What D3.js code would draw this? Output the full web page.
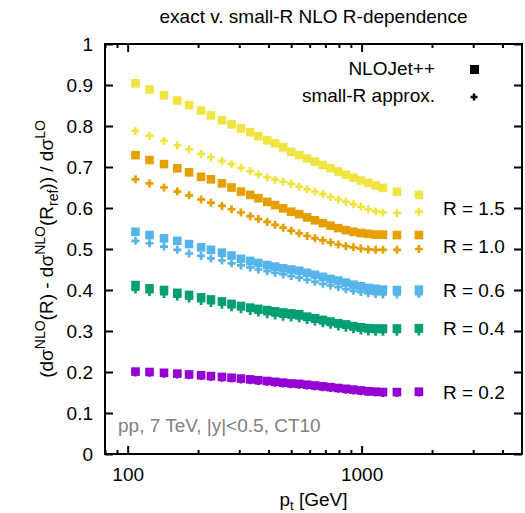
<!DOCTYPE html>
<html>
<head>
<meta charset="utf-8">
<script src="https://cdn.jsdelivr.net/npm/d3@7"></script>
<style>
  body { margin: 0; background: #fff; }
  text { font-family: "Liberation Sans", Arial, sans-serif; }
</style>
</head>
<body>
<div id="chart"></div>
<script>
// pt bins (GeV)
const pt = [108, 124, 143, 163, 183, 206, 227, 253, 278, 305, 334, 362, 395, 427, 462, 500, 541,
            585, 632, 683, 737, 795, 857, 923, 993, 1068, 1148, 1234, 1416, 1758];

// NLOJet++ (squares)
const nlo15 = [0.904, 0.889, 0.875, 0.862, 0.851, 0.838, 0.826, 0.814, 0.804, 0.794, 0.785, 0.775, 0.765, 0.758, 0.748, 0.737, 0.729,
               0.721, 0.713, 0.705, 0.697, 0.689, 0.681, 0.674, 0.667, 0.661, 0.655, 0.649, 0.640, 0.632];
const nlo10 = [0.729, 0.717, 0.707, 0.697, 0.687, 0.676, 0.670, 0.660, 0.650, 0.640, 0.632, 0.624, 0.615, 0.607, 0.599, 0.591, 0.585,
               0.577, 0.570, 0.563, 0.557, 0.551, 0.546, 0.542, 0.539, 0.537, 0.535, 0.535, 0.534, 0.534];
const nlo06 = [0.542, 0.534, 0.526, 0.520, 0.512, 0.504, 0.498, 0.491, 0.484, 0.476, 0.471, 0.466, 0.461, 0.457, 0.453, 0.450, 0.447,
               0.442, 0.437, 0.432, 0.427, 0.423, 0.418, 0.413, 0.409, 0.405, 0.403, 0.401, 0.400, 0.401];
const nlo04 = [0.412, 0.404, 0.400, 0.393, 0.388, 0.382, 0.377, 0.372, 0.366, 0.361, 0.357, 0.354, 0.351, 0.348, 0.345, 0.343, 0.341,
               0.335, 0.331, 0.327, 0.323, 0.319, 0.316, 0.312, 0.309, 0.307, 0.306, 0.306, 0.306, 0.307];
const nlo02 = [0.201, 0.200, 0.198, 0.196, 0.194, 0.192, 0.190, 0.188, 0.186, 0.184, 0.182, 0.180, 0.178, 0.176, 0.174, 0.172, 0.171,
               0.169, 0.167, 0.165, 0.163, 0.161, 0.159, 0.157, 0.155, 0.153, 0.152, 0.151, 0.151, 0.152];

// small-R approximation (plus signs)
const sr15 = [0.788, 0.776, 0.764, 0.753, 0.743, 0.732, 0.724, 0.715, 0.707, 0.698, 0.690, 0.682, 0.675, 0.669, 0.664, 0.659, 0.652,
              0.646, 0.640, 0.634, 0.627, 0.621, 0.615, 0.609, 0.603, 0.597, 0.592, 0.589, 0.588, 0.591];
const sr10 = [0.670, 0.660, 0.650, 0.640, 0.631, 0.621, 0.613, 0.605, 0.597, 0.589, 0.580, 0.573, 0.566, 0.559, 0.552, 0.545, 0.538,
              0.532, 0.526, 0.521, 0.516, 0.511, 0.507, 0.504, 0.501, 0.499, 0.498, 0.498, 0.498, 0.500];
const sr06 = [0.520, 0.514, 0.506, 0.498, 0.489, 0.483, 0.477, 0.472, 0.465, 0.460, 0.455, 0.450, 0.446, 0.442, 0.438, 0.434, 0.430,
              0.425, 0.420, 0.415, 0.411, 0.407, 0.402, 0.398, 0.395, 0.392, 0.390, 0.389, 0.389, 0.390];
const sr04 = [0.401, 0.395, 0.390, 0.384, 0.379, 0.373, 0.368, 0.364, 0.358, 0.353, 0.349, 0.345, 0.341, 0.338, 0.335, 0.333, 0.331,
              0.327, 0.323, 0.319, 0.315, 0.311, 0.308, 0.304, 0.301, 0.299, 0.298, 0.298, 0.298, 0.299];
const sr02 = [0.199, 0.198, 0.196, 0.194, 0.192, 0.190, 0.188, 0.186, 0.184, 0.182, 0.180, 0.178, 0.176, 0.174, 0.172, 0.170, 0.169,
              0.167, 0.165, 0.163, 0.161, 0.159, 0.157, 0.155, 0.153, 0.151, 0.150, 0.149, 0.149, 0.150];

const rLabels = ["R = 0.2", "R = 0.4", "R = 0.6", "R = 1.0", "R = 1.5"];
const rLabelY = [0.133, 0.291, 0.382, 0.490, 0.584];   // where the labels sit (y units)
const colors = ["#9400d3", "#009e73", "#56b4e9", "#e69f00", "#f0e442"];
const yTicks = [0, 0.1, 0.2, 0.3, 0.4, 0.5, 0.6, 0.7, 0.8, 0.9, 1];
const xTicks = [100, 1000];
const xMinor = [80, 90, 200, 300, 400, 500, 600, 700, 800, 900, 2000, 3000, 4000];

const nloSets = [nlo02, nlo04, nlo06, nlo10, nlo15];
const srSets = [sr02, sr04, sr06, sr10, sr15];

const W = 525, H = 513;
const mLeft = 105, mRight = 522, mTop = 44, mBottom = 454;

const svg = d3.select("#chart").append("svg")
    .attr("width", W).attr("height", H)
    .style("display", "block");

svg.append("rect").attr("width", W).attr("height", H).attr("fill", "white");

const x = d3.scaleLog().domain([80, 4850]).range([mLeft, mRight]);
const y = d3.scaleLinear().domain([0, 1]).range([mBottom, mTop]);

const fs = 19;

// axes with inward ticks
const axL = svg.append("g").attr("transform", `translate(${mLeft},0)`)
    .call(d3.axisLeft(y).tickValues(yTicks).tickSize(-8).tickPadding(12)
        .tickFormat(d => d3.format("~g")(d)));
const axR = svg.append("g").attr("transform", `translate(${mRight},0)`)
    .call(d3.axisRight(y).tickValues(yTicks).tickSize(-8).tickFormat(""));
const axB = svg.append("g").attr("transform", `translate(0,${mBottom})`)
    .call(d3.axisBottom(x).tickValues(xTicks).tickSize(-8).tickPadding(14).tickFormat(d3.format("d")));
const axT = svg.append("g").attr("transform", `translate(0,${mTop})`)
    .call(d3.axisTop(x).tickValues(xTicks).tickSize(-8).tickFormat(""));
const axBm = svg.append("g").attr("transform", `translate(0,${mBottom})`)
    .call(d3.axisBottom(x).tickValues(xMinor).tickSize(-4).tickFormat(""));
const axTm = svg.append("g").attr("transform", `translate(0,${mTop})`)
    .call(d3.axisTop(x).tickValues(xMinor).tickSize(-4).tickFormat(""));

[axL, axR, axB, axT, axBm, axTm].forEach(g => {
    g.select(".domain").remove();
    g.selectAll(".tick line").attr("stroke", "black").attr("stroke-width", 2);
    g.selectAll("text").attr("font-size", fs).attr("fill", "black")
        .style("font-family", '"Liberation Sans", Arial, sans-serif');
});

// frame
svg.append("rect")
    .attr("x", mLeft).attr("y", mTop)
    .attr("width", mRight - mLeft).attr("height", mBottom - mTop)
    .attr("fill", "none").attr("stroke", "black").attr("stroke-width", 2);

// points
const plot = svg.append("g");
const plusPath = s => `M${-s},0H${s}M0,${-s}V${s}`;

srSets.forEach((vals, i) => {
    plot.append("g").selectAll("path")
        .data(vals)
        .join("path")
        .attr("d", plusPath(4))
        .attr("transform", (d, j) => `translate(${x(pt[j])},${y(d)})`)
        .attr("stroke", colors[i]).attr("stroke-width", 2.7).attr("fill", "none");
});
nloSets.forEach((vals, i) => {
    plot.append("g").selectAll("rect")
        .data(vals)
        .join("rect")
        .attr("x", (d, j) => x(pt[j]) - 4.3)
        .attr("y", d => y(d) - 4.3)
        .attr("width", 8.6).attr("height", 8.6)
        .attr("fill", colors[i]);
});

// R labels
svg.append("g").selectAll("text")
    .data(rLabels)
    .join("text")
    .attr("x", 443)
    .attr("y", (d, i) => y(rLabelY[i]))
    .attr("font-size", fs)
    .text(d => d);

// legend
const leg = svg.append("g");
leg.append("text").attr("x", 435).attr("y", 75).attr("text-anchor", "end")
    .attr("font-size", fs).text("NLOJet++");
leg.append("rect").attr("x", 470).attr("y", 65).attr("width", 9).attr("height", 9).attr("fill", "black");
leg.append("text").attr("x", 435).attr("y", 102).attr("text-anchor", "end")
    .attr("font-size", fs).text("small-R approx.");
leg.append("path").attr("d", plusPath(3.5)).attr("transform", "translate(474,97)")
    .attr("stroke", "black").attr("stroke-width", 2.5);

// annotation
svg.append("text").attr("x", 118).attr("y", 432)
    .attr("font-size", fs).attr("fill", "#808080")
    .text("pp, 7 TeV, |y|<0.5, CT10");

// title
svg.append("text").attr("x", (mLeft + mRight) / 2).attr("y", 23)
    .attr("text-anchor", "middle").attr("font-size", fs)
    .text("exact v. small-R NLO R-dependence");

// x label
const xl = svg.append("text").attr("x", (mLeft + mRight) / 2).attr("y", 506)
    .attr("text-anchor", "middle").attr("font-size", fs);
xl.append("tspan").text("p");
xl.append("tspan").attr("dy", 4).attr("font-size", 13).text("t");
xl.append("tspan").attr("dy", -4).text(" [GeV]");

// y label
const yl = svg.append("text")
    .attr("transform", `translate(53,${(mTop + mBottom) / 2}) rotate(-90)`)
    .attr("text-anchor", "middle").attr("font-size", fs);
const sup = (t) => { yl.append("tspan").attr("dy", -8).attr("font-size", 14).text(t); };
const norm = (t) => { yl.append("tspan").attr("dy", 8).attr("font-size", fs).text(t); };
yl.append("tspan").text("(dσ");
sup("NLO");
norm("(R) - dσ");
sup("NLO");
norm("(R");
yl.append("tspan").attr("dy", 5).attr("font-size", 14).text("ref");
yl.append("tspan").attr("dy", -5).text(")) / dσ");
sup("LO");
</script>
</body>
</html>
